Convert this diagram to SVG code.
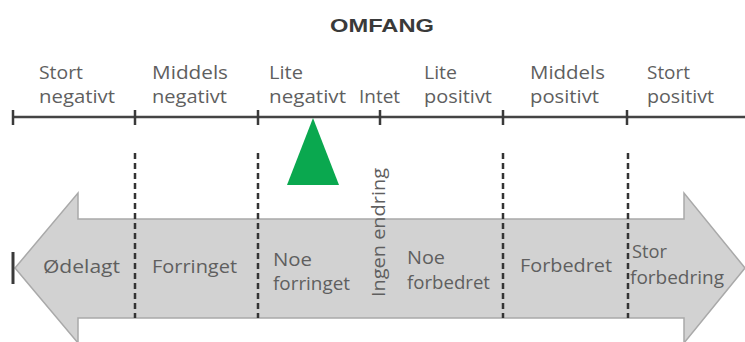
<svg xmlns="http://www.w3.org/2000/svg" width="745" height="342" viewBox="0 0 745 342">
<style>
.t{font-family:"Open Sans","Liberation Sans",Arial,sans-serif;font-size:18.5px;fill:#5f5f5f}
.tick{stroke:#3a3a3a;stroke-width:2.5}
.dash{stroke:#333;stroke-width:2.5;stroke-dasharray:6 4}
</style>
<rect width="745" height="342" fill="#fff"/>
<text x="382" y="32" text-anchor="middle" font-family="Liberation Sans, Arial, sans-serif" font-weight="bold" font-size="19" fill="#3a3a3a" textLength="104" lengthAdjust="spacingAndGlyphs">OMFANG</text>

<g id="scale">
<line x1="12" y1="117" x2="745" y2="117" stroke="#444" stroke-width="2.5"/>
<line class="tick" x1="13" y1="110" x2="13" y2="125"/>
<line class="tick" x1="135" y1="110" x2="135" y2="125"/>
<line class="tick" x1="258" y1="110" x2="258" y2="125"/>
<line class="tick" x1="380" y1="110" x2="380" y2="125"/>
<line class="tick" x1="503" y1="110" x2="503" y2="125"/>
<line class="tick" x1="627" y1="110" x2="627" y2="125"/>
</g>

<g id="scale-labels">
<text class="t" x="39" y="79" textLength="44" lengthAdjust="spacingAndGlyphs">Stort</text>
<text class="t" x="39" y="103" textLength="76" lengthAdjust="spacingAndGlyphs">negativt</text>
<text class="t" x="152" y="79" textLength="76" lengthAdjust="spacingAndGlyphs">Middels</text>
<text class="t" x="152" y="103" textLength="75" lengthAdjust="spacingAndGlyphs">negativt</text>
<text class="t" x="269" y="79" textLength="34" lengthAdjust="spacingAndGlyphs">Lite</text>
<text class="t" x="269" y="103" textLength="77" lengthAdjust="spacingAndGlyphs">negativt</text>
<text class="t" x="359" y="103" textLength="41" lengthAdjust="spacingAndGlyphs">Intet</text>
<text class="t" x="424" y="79" textLength="33" lengthAdjust="spacingAndGlyphs">Lite</text>
<text class="t" x="424" y="103" textLength="68" lengthAdjust="spacingAndGlyphs">positivt</text>
<text class="t" x="530" y="79" textLength="75" lengthAdjust="spacingAndGlyphs">Middels</text>
<text class="t" x="530" y="103" textLength="69" lengthAdjust="spacingAndGlyphs">positivt</text>
<text class="t" x="647" y="79" textLength="43" lengthAdjust="spacingAndGlyphs">Stort</text>
<text class="t" x="647" y="103" textLength="67" lengthAdjust="spacingAndGlyphs">positivt</text>
</g>

<g id="marker">
<polygon points="313,118 287,185 339,185" fill="#0aa84f"/>
</g>

<g id="arrow">
<path d="M15,268 L78,193 L78,219 L684,219 L684,193 L745,268 L684,343 L684,318 L78,318 L78,343 Z" fill="#d2d2d2" stroke="#a9a9a9" stroke-width="1.5"/>
<line x1="13" y1="252" x2="13" y2="284" stroke="#3a3a3a" stroke-width="3"/>
</g>

<g id="dividers">
<line class="dash" x1="135" y1="153" x2="135" y2="318"/>
<line class="dash" x1="258" y1="153" x2="258" y2="318"/>
<line class="dash" x1="503" y1="153" x2="503" y2="318"/>
<line class="dash" x1="628" y1="153" x2="628" y2="318"/>
</g>

<g id="arrow-labels">
<text class="t" x="43" y="273" textLength="77" lengthAdjust="spacingAndGlyphs">Ødelagt</text>
<text class="t" x="152" y="273" textLength="85" lengthAdjust="spacingAndGlyphs">Forringet</text>
<text class="t" x="273" y="266" textLength="39" lengthAdjust="spacingAndGlyphs">Noe</text>
<text class="t" x="273" y="290" textLength="77" lengthAdjust="spacingAndGlyphs">forringet</text>
<text class="t" transform="translate(385,297) rotate(-90)" x="0" y="0" textLength="129" lengthAdjust="spacingAndGlyphs">Ingen endring</text>
<text class="t" x="407" y="264" textLength="38" lengthAdjust="spacingAndGlyphs">Noe</text>
<text class="t" x="407" y="289" textLength="83" lengthAdjust="spacingAndGlyphs">forbedret</text>
<text class="t" x="520" y="272" textLength="92" lengthAdjust="spacingAndGlyphs">Forbedret</text>
<text class="t" x="632" y="258" textLength="35" lengthAdjust="spacingAndGlyphs">Stor</text>
<text class="t" x="630" y="284" textLength="94" lengthAdjust="spacingAndGlyphs">forbedring</text>
</g>
</svg>
